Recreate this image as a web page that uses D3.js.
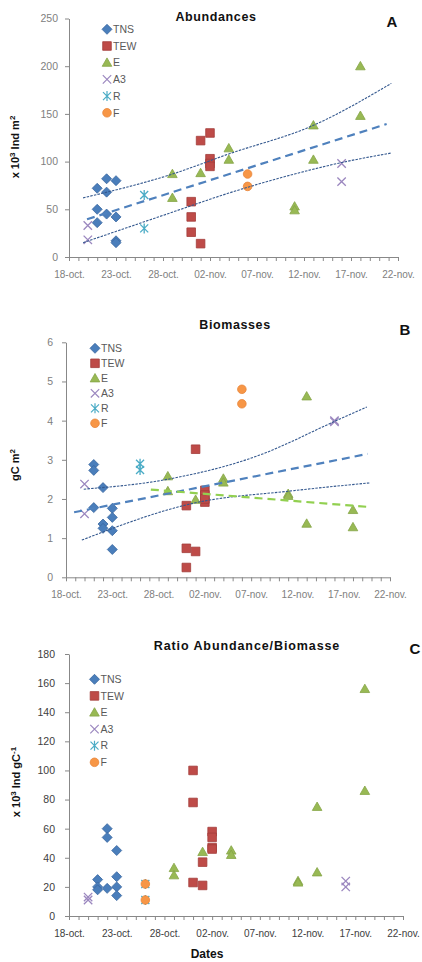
<!DOCTYPE html>
<html>
<head>
<meta charset="utf-8">
<script src="https://cdn.jsdelivr.net/npm/d3@7"></script>
<style>
  body { margin: 0; background: #fff; }
  svg { display: block; font-family: "Liberation Sans", Arial, sans-serif; }
</style>
</head>
<body>
<div id="chart"></div>
<script>
/* * * * * * * * * * * * * *
 *   data  *
 * * * * * * * * * * * * * */

const seriesNames = ["TNS", "TEW", "E", "A3", "R", "F"];

const xTickDates = ["2010-10-18", "2010-10-23", "2010-10-28", "2010-11-02", "2010-11-07", "2010-11-12", "2010-11-17", "2010-11-22"];
const xTickLabels = ["18-oct.", "23-oct.", "28-oct.", "02-nov.", "07-nov.", "12-nov.", "17-nov.", "22-nov."];

// A - abundances (x 10^3 ind m-2)
const abundTicks = [0, 50, 100, 150, 200, 250];
const abundTNS = [["2010-10-21", 72], ["2010-10-21", 50], ["2010-10-21", 36], ["2010-10-22", 82], ["2010-10-22", 68], ["2010-10-22", 45],
  ["2010-10-23", 80], ["2010-10-23", 42], ["2010-10-23", 17], ["2010-10-23", 15]];
const abundTEW = [["2010-10-31", 58], ["2010-10-31", 42], ["2010-10-31", 26], ["2010-11-01", 122], ["2010-11-01", 14],
  ["2010-11-02", 130], ["2010-11-02", 103], ["2010-11-02", 98], ["2010-11-02", 95]];
const abundE = [["2010-10-29", 87], ["2010-10-29", 62], ["2010-11-01", 88], ["2010-11-04", 114], ["2010-11-04", 102], ["2010-11-11", 53],
  ["2010-11-11", 49], ["2010-11-13", 138], ["2010-11-13", 102], ["2010-11-18", 200], ["2010-11-18", 148]];
const abundA3 = [["2010-10-20", 33], ["2010-10-20", 18], ["2010-11-16", 98], ["2010-11-16", 79]];
const abundR = [["2010-10-26", 65], ["2010-10-26", 30]];
const abundF = [["2010-11-06", 87], ["2010-11-06", 74]];
const abundFit = [["2010-10-19T22:00", 39.5], ["2010-11-20T19:00", 139.4]];
const abundUpper = [["2010-10-19T12:00", 62], ["2010-10-28T17:00", 86], ["2010-11-04T00:00", 108], ["2010-11-13T00:00", 138],
  ["2010-11-21T07:00", 182]];
const abundLower = [["2010-10-19T12:00", 15], ["2010-10-28T17:00", 46], ["2010-11-04T00:00", 67], ["2010-11-11T00:00", 87],
  ["2010-11-16T00:00", 99], ["2010-11-21T07:00", 109]];

// B - biomasses (gC m-2)
const bioTicks = [0, 1, 2, 3, 4, 5, 6];
const bioTNS = [["2010-10-21", 2.88], ["2010-10-21", 2.73], ["2010-10-21", 1.78], ["2010-10-22", 2.29], ["2010-10-22", 1.36], ["2010-10-22", 1.25],
  ["2010-10-23", 1.76], ["2010-10-23", 1.53], ["2010-10-23", 1.19], ["2010-10-23", 0.71]];
const bioTEW = [["2010-10-31", 0.74], ["2010-10-31", 1.83], ["2010-10-31", 0.25], ["2010-11-01", 3.27], ["2010-11-01", 0.66],
  ["2010-11-02", 2.22], ["2010-11-02", 1.92], ["2010-11-02", 2.1], ["2010-11-02", 2.0]];
const bioE = [["2010-10-29", 2.58], ["2010-10-29", 2.2], ["2010-11-01", 1.98], ["2010-11-04", 2.52], ["2010-11-04", 2.42], ["2010-11-11", 2.13],
  ["2010-11-11", 2.08], ["2010-11-13", 4.62], ["2010-11-13", 1.37], ["2010-11-18", 1.72], ["2010-11-18", 1.28]];
const bioA3 = [["2010-10-20", 2.38], ["2010-10-20", 1.62], ["2010-11-16", 4.0], ["2010-11-16", 3.97]];
const bioR = [["2010-10-26", 2.9], ["2010-10-26", 2.74]];
const bioF = [["2010-11-06", 4.8], ["2010-11-06", 4.43]];
const bioFit = [["2010-10-18T21:00", 1.66], ["2010-11-19T14:00", 3.15]];
const bioUpper = [["2010-10-19T22:00", 2.25], ["2010-10-28T22:00", 2.5], ["2010-11-07T22:00", 3.12], ["2010-11-15T22:00", 3.97],
  ["2010-11-19T12:00", 4.35]];
const bioLower = [["2010-10-19T17:00", 0.95], ["2010-10-31T18:00", 1.89], ["2010-11-11T12:00", 2.21], ["2010-11-19T19:00", 2.41]];
const bioFitE = [["2010-10-27T04:00", 2.24], ["2010-11-19T12:00", 1.8]];

// C - ratio abundance / biomass (x 10^3 ind gC-1)
const ratioTicks = [0, 20, 40, 60, 80, 100, 120, 140, 160, 180];
const ratioTNS = [["2010-10-21", 25], ["2010-10-21", 20], ["2010-10-21", 18], ["2010-10-22", 60], ["2010-10-22", 54], ["2010-10-22", 19],
  ["2010-10-23", 45], ["2010-10-23", 27], ["2010-10-23", 20], ["2010-10-23", 14]];
const ratioTEW = [["2010-10-31", 100], ["2010-10-31", 78], ["2010-10-31", 23], ["2010-11-01", 37], ["2010-11-01", 21],
  ["2010-11-02", 58], ["2010-11-02", 54], ["2010-11-02", 47], ["2010-11-02", 46]];
const ratioE = [["2010-10-29", 33], ["2010-10-29", 28], ["2010-11-01", 44], ["2010-11-04", 45], ["2010-11-04", 42], ["2010-11-11", 24],
  ["2010-11-11", 23], ["2010-11-13", 75], ["2010-11-13", 30], ["2010-11-18", 156], ["2010-11-18", 86]];
const ratioA3 = [["2010-10-20", 13], ["2010-10-20", 11], ["2010-11-16", 24], ["2010-11-16", 20]];
const ratioR = [["2010-10-26", 22], ["2010-10-26", 11]];
const ratioF = [["2010-10-26", 22], ["2010-10-26", 11]];

/* * * * * * * * * * * * * *
 *          PanelVis          *
 * * * * * * * * * * * * * */

const parseDate = (s) =>
  (s.length > 10 ? d3.utcParse("%Y-%m-%dT%H:%M") : d3.utcParse("%Y-%m-%d"))(s);

// marker look for each series (excel 2007 defaults)
const markers = {
  TNS: { shape: "diamond", fill: "#4a7ebb", stroke: "#3a67a0" },
  TEW: { shape: "square", fill: "#be4b48", stroke: "#a33e3b" },
  E: { shape: "triangle", fill: "#98b954", stroke: "#85a546" },
  A3: { shape: "x", fill: "none", stroke: "#9b87bf" },
  R: { shape: "star", fill: "none", stroke: "#4bacc6" },
  F: { shape: "circle", fill: "#f79646", stroke: "#e8853a" },
};

function markerPath(shape) {
  switch (shape) {
    case "diamond": return "M0,-5L5,0L0,5L-5,0Z";
    case "square": return "M-4.3,-4.3H4.3V4.3H-4.3Z";
    case "triangle": return "M0,-4.8L4.8,3.6H-4.8Z";
    case "x": return "M-4.2,-4.2L4.2,4.2M-4.2,4.2L4.2,-4.2";
    case "star": return "M-4,-4L4,4M-4,4L4,-4M0,-5V5";
    default: return d3.symbol(d3.symbolCircle, Math.PI * 4.3 * 4.3)();
  }
}

class PanelVis {
  constructor(svg, cfg, series, fits) {
    this.svg = svg;
    this.cfg = cfg;
    this.series = series;
    this.fits = fits;
    this.initVis();
  }

  initVis() {
    let vis = this;
    let c = vis.cfg;

    vis.g = vis.svg.append("g");

    vis.x = d3.scaleUtc()
      .domain([parseDate(xTickDates[0]), parseDate(xTickDates[xTickDates.length - 1])])
      .range([c.left, c.right]);

    vis.y = d3.scaleLinear()
      .domain([c.ticks[0], c.ticks[c.ticks.length - 1]])
      .range([c.bottom, c.top]);

    // y axis
    let yAxis = vis.g.append("g")
      .attr("transform", `translate(${c.left},0)`)
      .call(d3.axisLeft(vis.y).tickValues(c.ticks).tickFormat(d3.format("~g"))
        .tickSize(4).tickSizeOuter(0).tickPadding(c.yPad));
    yAxis.select(".domain").attr("stroke", "#888");
    yAxis.selectAll(".tick line").attr("stroke", "#888");
    yAxis.selectAll(".tick text")
      .attr("fill", c.tickColor)
      .attr("font-size", 10.5)
      .attr("font-family", "Liberation Sans, Arial, sans-serif");

    // x axis, one tick per day, label every 5 days
    let labelOf = {};
    xTickDates.forEach((d, i) => (labelOf[+parseDate(d)] = xTickLabels[i]));
    let days = d3.utcDay.range(vis.x.domain()[0], d3.utcDay.offset(vis.x.domain()[1], 1));

    let xAxis = vis.g.append("g")
      .attr("transform", `translate(0,${c.bottom})`)
      .call(d3.axisBottom(vis.x).tickValues(days).tickSize(4).tickSizeOuter(0).tickPadding(10)
        .tickFormat((d) => labelOf[+d] || ""));
    xAxis.select(".domain").attr("stroke", "#888");
    xAxis.selectAll(".tick line").attr("stroke", "#888");
    xAxis.selectAll(".tick text")
      .attr("fill", c.tickColor)
      .attr("font-size", 10)
      .attr("font-family", "Liberation Sans, Arial, sans-serif");

    // title + panel letter
    vis.g.append("text")
      .attr("x", c.titleX)
      .attr("y", c.titleY)
      .attr("text-anchor", "middle")
      .attr("font-weight", "bold")
      .attr("font-size", 12.5)
      .attr("letter-spacing", c.titleSpacing)
      .attr("fill", "#111")
      .text(c.title);

    vis.g.append("text")
      .attr("x", c.letterX)
      .attr("y", c.letterY)
      .attr("text-anchor", "middle")
      .attr("font-weight", "bold")
      .attr("font-size", 15)
      .attr("fill", "#111")
      .text(c.letter);

    // y axis title with superscripts
    let lab = vis.g.append("text")
      .attr("transform", `translate(${c.labelX},${c.labelY}) rotate(-90)`)
      .attr("text-anchor", "middle")
      .attr("font-weight", "bold")
      .attr("font-size", 11)
      .attr("fill", "#111");
    c.label.forEach(([t, sup]) => {
      lab.append("tspan")
        .attr("dy", sup ? -4 : 4)
        .attr("font-size", sup ? 8 : 11)
        .text(t);
    });
    lab.select("tspan").attr("dy", 0);

    if (c.xTitle) {
      vis.g.append("text")
        .attr("x", c.xTitleX)
        .attr("y", c.xTitleY)
        .attr("text-anchor", "middle")
        .attr("font-weight", "bold")
        .attr("font-size", 12)
        .attr("fill", "#111")
        .text(c.xTitle);
    }

    vis.updateVis();
  }

  updateVis() {
    let vis = this;
    let c = vis.cfg;

    // markers
    seriesNames.forEach((name, i) => {
      let m = markers[name];
      vis.g.append("g")
        .selectAll("path")
        .data(vis.series[i])
        .join("path")
        .attr("transform", (d) => `translate(${vis.x(parseDate(d[0]))},${vis.y(d[1])})`)
        .attr("d", markerPath(m.shape))
        .attr("fill", m.fill)
        .attr("stroke", m.stroke)
        .attr("stroke-width", m.fill === "none" ? 1.3 : 0.8);
    });

    // trend lines
    let line = d3.line()
      .x((d) => vis.x(parseDate(d[0])))
      .y((d) => vis.y(d[1]));

    vis.fits.forEach((f) => {
      vis.g.append("path")
        .datum(f.data)
        .attr("d", line.curve(f.curved ? d3.curveMonotoneX : d3.curveLinear))
        .attr("fill", "none")
        .attr("stroke", f.color)
        .attr("stroke-width", f.width)
        .attr("stroke-dasharray", f.dash);
    });

    // legend
    vis.legend = vis.g.append("g")
      .selectAll("g")
      .data(seriesNames)
      .join("g")
      .attr("transform", (d, i) => `translate(${c.legendX},${c.legendY + i * c.legendStep})`);

    vis.legend.append("path")
      .attr("d", (d) => markerPath(markers[d].shape))
      .attr("fill", (d) => markers[d].fill)
      .attr("stroke", (d) => markers[d].stroke)
      .attr("stroke-width", (d) => (markers[d].fill === "none" ? 1.2 : 0.8));

    vis.legend.append("text")
      .attr("x", 6)
      .attr("dy", "0.36em")
      .attr("font-size", 10.5)
      .attr("fill", "#595959")
      .text((d) => d);
  }
}

const svg = d3.select("#chart").append("svg").attr("width", 422).attr("height", 962);

const dotted = (data) => ({ data: data, curved: true, color: "#35598f", width: 1.1, dash: "2.5,1.2" });
const dashed = (data, color) => ({ data: data, curved: false, color: color, width: 2.2, dash: "8,5" });

new PanelVis(svg, {
  left: 69, right: 398, top: 18.5, bottom: 257, ticks: abundTicks, yPad: 7, tickColor: "#808080",
  title: "Abundances", titleX: 216, titleY: 21, titleSpacing: 0.6,
  letter: "A", letterX: 392, letterY: 27,
  label: [["x 10", false], ["3", true], [" Ind m", false], ["2", true]], labelX: 19, labelY: 147,
  legendX: 107, legendY: 29.3, legendStep: 16.7,
}, [abundTNS, abundTEW, abundE, abundA3, abundR, abundF],
[dotted(abundUpper), dotted(abundLower), dashed(abundFit, "#4f81bd")]);

new PanelVis(svg, {
  left: 66, right: 390, top: 342.3, bottom: 577.3, ticks: bioTicks, yPad: 9, tickColor: "#808080",
  title: "Biomasses", titleX: 235, titleY: 329, titleSpacing: 0.6,
  letter: "B", letterX: 405, letterY: 335,
  label: [["gC m", false], ["2", true]], labelX: 19, labelY: 465,
  legendX: 95, legendY: 348.3, legendStep: 15,
}, [bioTNS, bioTEW, bioE, bioA3, bioR, bioF],
[dotted(bioUpper), dotted(bioLower), dashed(bioFit, "#4f81bd"), dashed(bioFitE, "#92d050")]);

new PanelVis(svg, {
  left: 69, right: 403, top: 654, bottom: 916, ticks: ratioTicks, yPad: 10, tickColor: "#404040",
  title: "Ratio Abundance/Biomasse", titleX: 247, titleY: 650, titleSpacing: 0.9,
  letter: "C", letterX: 415, letterY: 654,
  label: [["x 10", false], ["3", true], [" Ind gC", false], ["-1", true]], labelX: 20, labelY: 782,
  legendX: 94.5, legendY: 679.3, legendStep: 16.6,
  xTitle: "Dates", xTitleX: 207, xTitleY: 958,
}, [ratioTNS, ratioTEW, ratioE, ratioA3, ratioR, ratioF], []);
</script>
</body>
</html>
